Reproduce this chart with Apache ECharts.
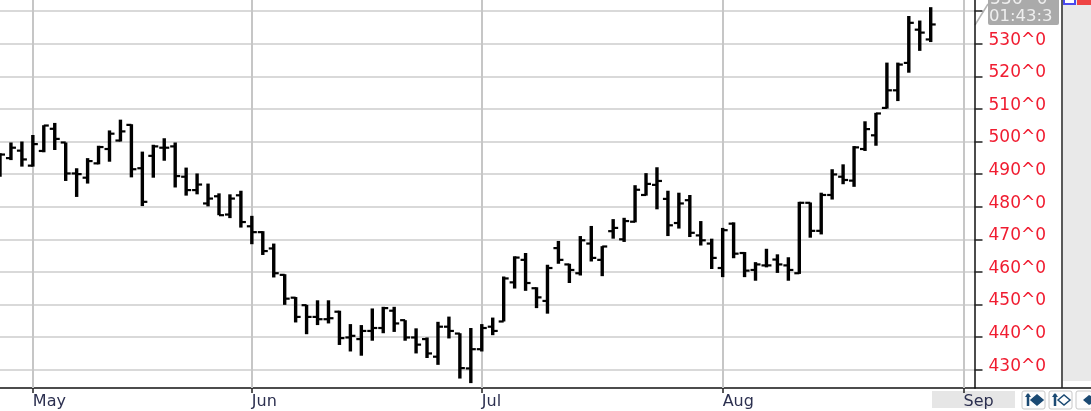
<!DOCTYPE html>
<html>
<head>
<meta charset="utf-8">
<style>html,body{margin:0;padding:0;background:#fff}#c{width:1091px;height:411px}</style>
<script src="https://cdn.jsdelivr.net/npm/echarts@6/dist/echarts.min.js"></script>
</head>
<body>
<div id="c"></div>
<script>
const opens = [496,494.9,497.2,492.6,497.1,503.9,499.7,490.2,488.9,493.3,497.7,500.3,505.1,491.8,495.6,498.1,498.5,489.2,485.1,481,483.2,477.6,483.5,474,472.2,467.2,459.1,452.1,449.8,446.2,445.5,447.8,439.9,439.4,441.9,442.8,448.1,445.2,439.9,439.4,434,443.2,441.1,430.4,436.3,443.2,444.8,456.8,463.7,455,451.1,467.3,462.3,459.6,468.7,463.7,472.5,470,475.4,483.6,486.7,482.4,475,482,471.2,468.7,461.2,474.8,465.8,460.6,462,463.8,462,459.6,481.2,472.6,483.6,489.2,488,497.7,501.9,510.3,515.7,524.1,534.3,531.3];
const highs = [496.4,499.7,500,502,505,505.7,499.7,491.8,494.9,498.7,503.4,506.7,505.3,496.9,499,501,499.7,492,490.2,487.1,484.1,483.8,484.9,477.2,472.5,468.7,459.3,452.3,449.9,451.3,451.3,448.1,444,443.7,448.8,449.3,449.3,445.2,442.7,439.9,444.7,446.3,441.2,442.8,444,446,458.6,464.8,465.8,455.3,462.2,469.5,462.5,471,474.1,467.9,476.2,476.6,486.6,490.3,492.1,484.9,484.3,483.6,475.6,470.2,473.5,475.2,466.1,463,467.1,465.4,464.5,481.5,481.3,484.3,491.5,493,498.6,506.2,508.8,524.2,524.2,538.5,537.1,541.2];
const lows = [489.2,494.3,492.3,492.3,496.7,497.4,487.9,483,487.1,493,493.8,500,489,480.2,488.9,494.1,485.9,483.4,483.8,480.1,477.4,476.5,473.6,468.5,465.2,458.3,449.9,444.5,440.9,443.7,444.2,437.6,435.6,434.3,438.9,441.2,441.6,438.9,435,433.6,431.5,439.6,427.3,425.9,435.6,440.6,444.8,454.9,454.2,448.9,447.2,462.5,456.6,458.9,463.2,458.7,470.2,469.2,475.2,483.4,479.2,471,473.3,470.7,468.1,460.9,458.4,464.2,458.4,457.3,461.4,459.7,457.3,459.4,470.5,471.5,482.2,486.9,486.1,497.1,498.7,510.1,512.4,521.1,527.8,530.5];
const closes = [496,498.1,494.5,499.2,504.9,500.8,490.2,490,494,498.3,502.4,503.1,491.5,481.5,498.5,498.1,489.4,485.1,486.8,482.5,477.4,482.5,475.3,472.2,466.4,459.6,451.8,446.2,446.2,445.5,445.8,439.7,440.4,441.9,442.8,448.9,444.2,439.9,437.7,435,443.2,441.9,430.5,436.3,442.8,441.9,458,464.4,456.6,452.2,461.2,463.7,460.6,469.7,464.3,467.8,473.5,475.6,485.2,487,487.9,474.3,481,472,469.7,464.3,472.8,465.6,460.4,462.3,462,462.3,460.6,481.2,472.6,483.6,489.9,488.2,498.2,503.8,508.6,515.7,523.6,536.4,533.4,535.9];
const monthLabels = ['May','Jun','Jul','Aug','Sep'];
const monthSlots = [3,23,44,66,88];
const slotCount = 90;
const priceMin = 424.4, priceMax = 543.4;
const priceTicks = [430,440,450,460,470,480,490,500,510,520,530,540];
const priceLabels = [430,440,450,460,470,480,490,500,510,520,530];
const boxPrice = '536^0', boxTime = '01:43:3';

const slots = Array.from({length: slotCount}, (_, i) => {
  const m = monthSlots.indexOf(i);
  return m >= 0 ? monthLabels[m] : String(i);
});
const isMonth = i => monthSlots.indexOf(i) >= 0;
const bars = opens.map((o, i) => [i, o, highs[i], lows[i], closes[i]]);

const chart = echarts.init(document.getElementById('c'), null, {renderer: 'canvas'});

function button(x, filled) {
  const stroke = '#1b4a73';
  return [
    {type:'rect', silent:true, shape:{x:x,y:391,width:23,height:18,r:2}, style:{fill:'#fdfdfd',stroke:'#c8c8c8',lineWidth:1}},
    {type:'line', silent:true, shape:{x1:x+6,y1:394,x2:x+6,y2:406}, style:{stroke:stroke,lineWidth:2.5}},
    {type:'polygon', silent:true, shape:{points:[[x+3,397],[x+6,393],[x+9,397]]}, style:{fill:stroke}},
    {type:'polygon', silent:true, shape:{points:[[x+9,400],[x+15,395],[x+21,400],[x+15,405]]},
      style:{fill:filled?stroke:'#fff',stroke:stroke,lineWidth:1.5}}
  ];
}

chart.setOption({
  animation: false,
  backgroundColor: '#fff',
  grid: {left: 0, top: 0, width: 974.5, height: 388, containLabel: false},
  xAxis: {
    type: 'category',
    data: slots,
    boundaryGap: false,
    axisLine: {show: false},
    axisTick: {show: true, length: 5, interval: i => isMonth(i), lineStyle: {color: '#222', width: 1.5}},
    splitLine: {show: true, interval: i => isMonth(i), lineStyle: {color: '#c6c6c6', width: 2}},
    axisLabel: {
      show: true, interval: i => isMonth(i), align: 'left', margin: 6,
      color: '#2c3050', fontFamily: 'DejaVu Sans', fontSize: 16,
      formatter: v => monthLabels.indexOf(v) >= 0 ? v : ''
    }
  },
  yAxis: {
    type: 'value', position: 'right', min: priceMin, max: priceMax,
    axisLine: {show: true, onZero: false, lineStyle: {color: '#111', width: 1.5}},
    axisTick: {show: true, length: 8, customValues: priceTicks, lineStyle: {color: '#222', width: 1.5}},
    splitLine: {show: true, lineStyle: {color: '#cccccc', width: 1.5}},
    axisLabel: {
      show: true, inside: false, margin: 14, color: '#f01c30', customValues: priceLabels,
      fontFamily: 'DejaVu Sans', fontSize: 17, verticalAlign: 'bottom', lineHeight: 7,
      formatter: v => Math.round(v) + '^0'
    }
  },
  series: [{
    type: 'custom',
    clip: true,
    encode: {x: 0, y: [1,2,3,4]},
    data: bars,
    renderItem: (params, api) => {
      const i = api.value(0);
      const hi = api.coord([i, api.value(2)]);
      const lo = api.coord([i, api.value(3)]);
      const op = api.coord([i, api.value(1)]);
      const cl = api.coord([i, api.value(4)]);
      const s = {stroke: '#000', lineWidth: 3.4};
      const t = {stroke: '#000', lineWidth: 2.2};
      return {type: 'group', children: [
        {type:'line', shape:{x1:hi[0],y1:hi[1],x2:lo[0],y2:lo[1]}, style:s},
        {type:'line', shape:{x1:op[0]-5,y1:op[1],x2:op[0],y2:op[1]}, style:t},
        {type:'line', shape:{x1:cl[0],y1:cl[1],x2:cl[0]+5,y2:cl[1]}, style:t}
      ]};
    }
  }],
  graphic: {elements: [
    {type:'rect', silent:true, z:-1, shape:{x:932,y:391,width:83,height:17}, style:{fill:'#e6e6e6'}},
    {type:'rect', silent:true, shape:{x:1063,y:0,width:28,height:381}, style:{fill:'#e9e9e9'}},
    {type:'line', silent:true, shape:{x1:0,y1:388,x2:1091,y2:388}, style:{stroke:'#111',lineWidth:1.5}},
    {type:'line', silent:true, shape:{x1:1062,y1:0,x2:1062,y2:388}, style:{stroke:'#222',lineWidth:1.5}},
    {type:'rect', silent:true, shape:{x:1064,y:-2,width:11,height:6}, style:{fill:'#fff',stroke:'#4a4aee',lineWidth:2}},
    {type:'rect', silent:true, shape:{x:1077,y:0,width:14,height:5}, style:{fill:'#ee4444'}},
    {type:'line', silent:true, shape:{x1:975,y1:25,x2:988,y2:4}, style:{stroke:'#b4b4b4',lineWidth:1.5}},
    {type:'rect', silent:true, shape:{x:988,y:-3,width:71,height:28,r:2}, style:{fill:'#aaaaaa'}},
    {type:'text', silent:true, x:990, y:-9, style:{text:boxPrice,fill:'#efefef',font:'17px "DejaVu Sans"'}},
    {type:'text', silent:true, x:989, y:8, style:{text:boxTime,fill:'#efefef',font:'16.5px "DejaVu Sans"'}},
    ...button(1022,true), ...button(1049,false),
    {type:'rect', silent:true, shape:{x:1076,y:391,width:16,height:18,r:2}, style:{fill:'#fdfdfd',stroke:'#c8c8c8'}},
    {type:'polygon', silent:true, shape:{points:[[1083,400],[1089,395],[1091,396],[1091,404],[1089,405]]}, style:{fill:'#1b4a73'}}
  ]}
});
</script>
</body>
</html>
